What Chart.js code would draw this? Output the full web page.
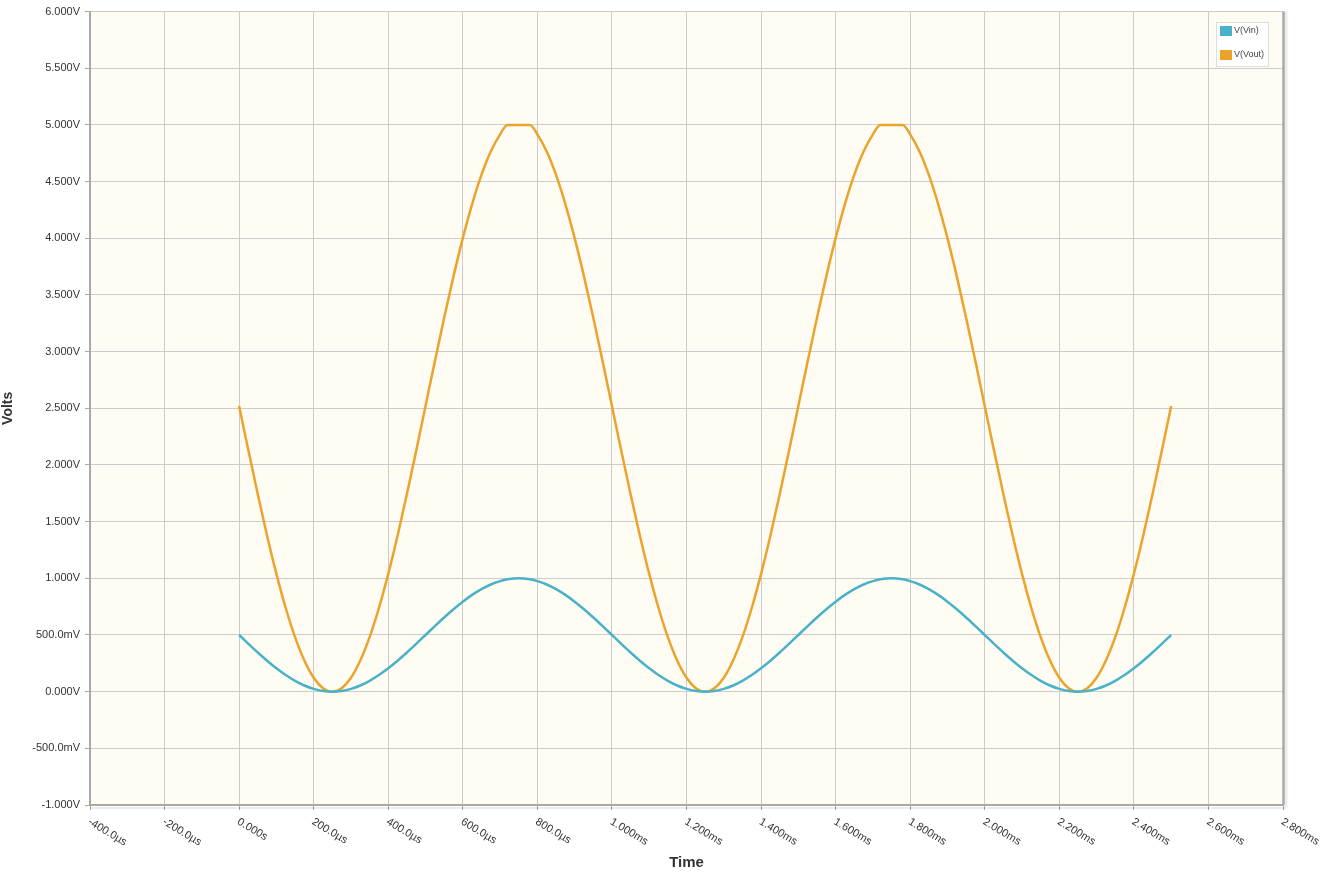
<!DOCTYPE html>
<html><head><meta charset="utf-8">
<script src="https://cdn.jsdelivr.net/npm/chart.js@4/dist/chart.umd.min.js"></script>
<style>html,body{margin:0;padding:0;background:#fff}#wrap{width:1320px;height:883px}</style>
</head><body><div id="wrap"><canvas id="c" width="1320" height="883"></canvas></div>
<script>
// time in microseconds
const timeUs = [0,25,50,75,100,125,150,175,200,225,250,275,300,325,350,375,400,425,450,475,
500,525,550,575,600,625,650,675,700,720,750,780,800,825,850,875,900,925,950,975,
1000,1025,1050,1075,1100,1125,1150,1175,1200,1225,1250,1275,1300,1325,1350,1375,1400,1425,1450,1475,
1500,1525,1550,1575,1600,1625,1650,1675,1700,1720,1750,1780,1800,1825,1850,1875,1900,1925,1950,1975,
2000,2025,2050,2075,2100,2125,2150,2175,2200,2225,2250,2275,2300,2325,2350,2375,2400,2425,2450,2475,2500];
const vin = [0.5,0.4218,0.3455,0.273,0.2061,0.1464,0.0955,0.0545,0.0245,0.0062,
0,0.0062,0.0245,0.0545,0.0955,0.1464,0.2061,0.273,0.3455,0.4218,
0.5,0.5782,0.6545,0.727,0.7939,0.8536,0.9045,0.9455,0.9755,0.9912,
1.0,0.9912,0.9755,0.9455,0.9045,0.8536,0.7939,0.727,0.6545,0.5782,
0.5,0.4218,0.3455,0.273,0.2061,0.1464,0.0955,0.0545,0.0245,0.0062,
0,0.0062,0.0245,0.0545,0.0955,0.1464,0.2061,0.273,0.3455,0.4218,
0.5,0.5782,0.6545,0.727,0.7939,0.8536,0.9045,0.9455,0.9755,0.9912,
1.0,0.9912,0.9755,0.9455,0.9045,0.8536,0.7939,0.727,0.6545,0.5782,
0.5,0.4218,0.3455,0.273,0.2061,0.1464,0.0955,0.0545,0.0245,0.0062,
0,0.0062,0.0245,0.0545,0.0955,0.1464,0.2061,0.273,0.3455,0.4218,0.5];
const vout = [2.52,2.126,1.741,1.376,1.039,0.738,0.481,0.275,0.123,0.031,
0,0.031,0.123,0.275,0.481,0.738,1.039,1.376,1.741,2.126,
2.52,2.914,3.299,3.664,4.001,4.302,4.559,4.765,4.917,5.0,
5.0,5.0,4.917,4.765,4.559,4.302,4.001,3.664,3.299,2.914,
2.52,2.126,1.741,1.376,1.039,0.738,0.481,0.275,0.123,0.031,
0,0.031,0.123,0.275,0.481,0.738,1.039,1.376,1.741,2.126,
2.52,2.914,3.299,3.664,4.001,4.302,4.559,4.765,4.917,5.0,
5.0,5.0,4.917,4.765,4.559,4.302,4.001,3.664,3.299,2.914,
2.52,2.126,1.741,1.376,1.039,0.738,0.481,0.275,0.123,0.031,
0,0.031,0.123,0.275,0.481,0.738,1.039,1.376,1.741,2.126,2.52];
const seriesNames = ["V(Vin)","V(Vout)"];
const seriesColors = ["#4AB2C8","#ECA32C"];
const xTickValues = [-400,-200,0,200,400,600,800,1000,1200,1400,1600,1800,2000,2200,2400,2600,2800];
const xTickLabels = ["-400.0\u00b5s","-200.0\u00b5s","0.000s","200.0\u00b5s","400.0\u00b5s","600.0\u00b5s","800.0\u00b5s","1.000ms","1.200ms","1.400ms","1.600ms","1.800ms","2.000ms","2.200ms","2.400ms","2.600ms","2.800ms"];
const yTickValues = [-1,-0.5,0,0.5,1,1.5,2,2.5,3,3.5,4,4.5,5,5.5,6];
const yTickLabels = ["-1.000V","-500.0mV","0.000V","500.0mV","1.000V","1.500V","2.000V","2.500V","3.000V","3.500V","4.000V","4.500V","5.000V","5.500V","6.000V"];
const xTitle = "Time", yTitle = "Volts";

const FONT = "'Liberation Sans', Arial, Helvetica, sans-serif";

const decor = {
  id: 'decor',
  beforeDraw(chart) {
    const {ctx, chartArea: a} = chart;
    ctx.save();
    ctx.fillStyle = '#FFFCF4';
    ctx.fillRect(a.left, a.top, a.right - a.left, a.bottom - a.top);
    ctx.restore();
  },
  afterDraw(chart) {
    const {ctx, chartArea: a} = chart;
    const xs = chart.scales.x;
    ctx.save();
    // right border with shadow
    ctx.strokeStyle = 'rgba(0,0,0,0.08)';
    ctx.lineWidth = 3;
    ctx.beginPath(); ctx.moveTo(a.right + 3, a.top); ctx.lineTo(a.right + 3, a.bottom + 2); ctx.stroke();
    ctx.strokeStyle = '#A8A8A8';
    ctx.lineWidth = 2.5;
    ctx.beginPath(); ctx.moveTo(a.right + 0.5, a.top); ctx.lineTo(a.right + 0.5, a.bottom); ctx.stroke();
    // bottom axis shadow
    ctx.strokeStyle = 'rgba(0,0,0,0.08)';
    ctx.lineWidth = 2;
    ctx.beginPath(); ctx.moveTo(a.left, a.bottom + 3); ctx.lineTo(a.right + 3, a.bottom + 3); ctx.stroke();
    // x tick labels, rotated clockwise
    ctx.fillStyle = '#333';
    ctx.font = '11px ' + FONT;
    ctx.textAlign = 'left';
    ctx.textBaseline = 'middle';
    xTickValues.forEach((v, i) => {
      const px = xs.getPixelForValue(v);
      ctx.save();
      ctx.translate(px - 1, a.bottom + 16);
      ctx.rotate(31 * Math.PI / 180);
      ctx.fillText(xTickLabels[i], 0, 0);
      ctx.restore();
    });
    // axis titles
    ctx.font = 'bold 15px ' + FONT;
    ctx.fillStyle = '#333';
    ctx.textAlign = 'center';
    ctx.fillText(xTitle, (a.left + a.right) / 2, 863);
    ctx.font = 'bold 14px ' + FONT;
    ctx.save();
    ctx.translate(8, (a.top + a.bottom) / 2);
    ctx.rotate(-Math.PI / 2);
    ctx.fillText(yTitle, 0, 0);
    ctx.restore();
    // legend
    const lx = 1216, ly = 22, lw = 52, lh = 44;
    ctx.fillStyle = '#FFFFFF';
    ctx.fillRect(lx, ly, lw, lh);
    ctx.strokeStyle = '#DDDDDD';
    ctx.lineWidth = 1;
    ctx.strokeRect(lx + 0.5, ly + 0.5, lw, lh);
    ctx.font = '9px ' + FONT;
    ctx.textAlign = 'left';
    chart.data.datasets.forEach((ds, i) => {
      const yy = ly + 9 + i * 24;
      ctx.fillStyle = ds.borderColor;
      ctx.fillRect(lx + 4, yy - 5, 12, 10);
      ctx.fillStyle = '#444';
      ctx.fillText(ds.label, lx + 18, yy);
    });
    ctx.restore();
  }
};

new Chart(document.getElementById('c'), {
  type: 'line',
  data: {
    datasets: [vin, vout].map((vals, k) => ({
      label: seriesNames[k],
      data: timeUs.map((t, i) => ({x: t, y: vals[i]})),
      borderColor: seriesColors[k],
      backgroundColor: seriesColors[k],
      borderWidth: 2.5,
      pointRadius: 0,
      cubicInterpolationMode: 'monotone',
      fill: false
    }))
  },
  options: {
    responsive: false,
    animation: false,
    layout: {padding: {top: 10, right: 37, left: 0, bottom: 0}},
    plugins: {legend: {display: false}, tooltip: {enabled: false}},
    scales: {
      x: {
        type: 'linear', min: -400, max: 2800,
        afterBuildTicks: s => { s.ticks = xTickValues.map(v => ({value: v})); },
        afterFit: s => { s.height = 78; },
        ticks: {display: false},
        grid: {color: '#CCCCCC', lineWidth: 1, drawTicks: true, tickLength: 5, tickColor: '#A8A8A8'},
        border: {color: '#A8A8A8', width: 2}
      },
      y: {
        type: 'linear', min: -1, max: 6,
        afterBuildTicks: s => { s.ticks = yTickValues.map(v => ({value: v})); },
        afterFit: s => { s.width = 90; },
        ticks: {
          color: '#333', padding: 5,
          font: {family: FONT, size: 11},
          callback: (v) => { const i = yTickValues.indexOf(v); return i >= 0 ? yTickLabels[i] : ''; }
        },
        grid: {color: '#CCCCCC', lineWidth: 1, drawTicks: true, tickLength: 5, tickColor: '#A8A8A8'},
        border: {color: '#A8A8A8', width: 2}
      }
    }
  },
  plugins: [decor]
});
</script></body></html>
